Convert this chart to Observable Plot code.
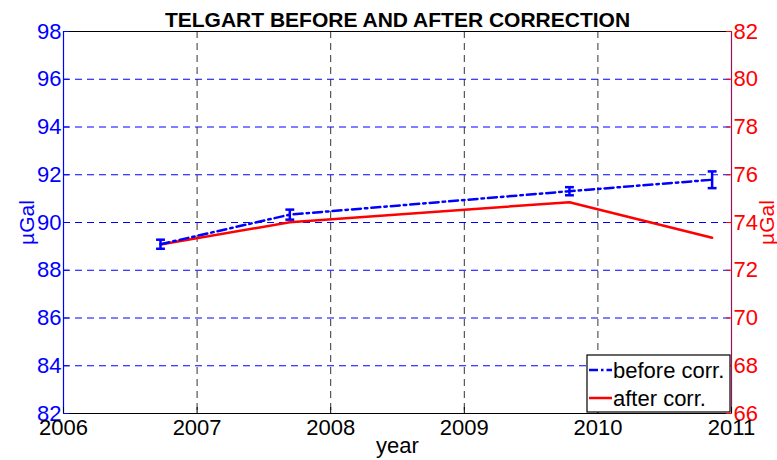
<!DOCTYPE html>
<html>
<head>
<meta charset="utf-8">
<script src="https://cdn.jsdelivr.net/npm/d3@7"></script>
<script src="https://cdn.jsdelivr.net/npm/@observablehq/plot@0.6"></script>
<style>
  html, body { margin: 0; padding: 0; background: #fff; }
  #chart { position: relative; width: 777px; height: 460px; }
</style>
</head>
<body>
<div id="chart"></div>
<script>
// ---- data ----
const title = "TELGART BEFORE AND AFTER CORRECTION";
const years = [2006.726, 2007.694, 2009.787, 2010.855];
const beforeValues = [89.09, 90.33, 91.31, 91.79];   // left axis, µGal
const beforeErrors = [0.19, 0.21, 0.17, 0.35];
const afterValues = [73.08, 74.01, 74.85, 73.36];    // right axis, µGal
const xTicks = [2006, 2007, 2008, 2009, 2010, 2011];
const leftTicks = [82, 84, 86, 88, 90, 92, 94, 96, 98];
const rightTicks = [66, 68, 70, 72, 74, 76, 78, 80, 82];
const rightOffset = 16; // right axis = left axis - 16
const seriesNames = ["before corr.", "after corr."];

const before = years.map((x, i) => ({x, v: beforeValues[i], e: beforeErrors[i]}));
const after = years.map((x, i) => ({x, v: afterValues[i]}));

const capSymbol = {
  draw(context, size) {
    const w = Math.sqrt(size) / 2;
    context.moveTo(-w, 0);
    context.lineTo(w, 0);
  }
};

const font = "'Liberation Sans', Arial, Helvetica, sans-serif";
const BLUE = "#0000ff", RED = "#ff0000";

const chart = Plot.plot({
  width: 777,
  height: 460,
  marginLeft: 63,
  marginRight: 46,
  marginTop: 31,
  marginBottom: 47,
  style: {fontFamily: font, fontSize: "22px", background: "#fff", overflow: "visible"},
  x: {domain: [2006, 2011]},
  y: {domain: [82, 98]},
  marks: [
    // grid
    Plot.ruleY(leftTicks.slice(1, -1), {stroke: BLUE, strokeWidth: 1, strokeDasharray: "7,5"}),
    Plot.ruleX(xTicks.slice(1, -1), {stroke: "#333", strokeWidth: 1, strokeDasharray: "7,5"}),
    // frame
    Plot.ruleY([98, 82], {stroke: "#000", strokeWidth: 1.2}),
    Plot.ruleX([2006], {stroke: BLUE, strokeWidth: 1.2}),
    Plot.ruleX([2011], {stroke: "#a0105a", strokeWidth: 1.2}),
    // axes
    Plot.axisY({anchor: "left", ticks: leftTicks, tickSize: -6, tickPadding: 8, color: BLUE, label: null, fontSize: 22}),
    Plot.axisY({anchor: "right", ticks: leftTicks, tickFormat: d => String(d - rightOffset), tickSize: -6, tickPadding: 8, color: RED, label: null, fontSize: 22}),
    Plot.axisX({anchor: "bottom", ticks: xTicks, tickFormat: d => String(d), tickSize: -6, tickPadding: 12, color: "#000", label: null, fontSize: 22}),
    // data
    Plot.line(after, {x: "x", y: d => d.v + rightOffset, stroke: RED, strokeWidth: 2.5}),
    Plot.line(before, {x: "x", y: "v", stroke: BLUE, strokeWidth: 2.5, strokeDasharray: "9,4,2.5,4"}),
    Plot.ruleX(before, {x: "x", y1: d => d.v - d.e, y2: d => d.v + d.e, stroke: BLUE, strokeWidth: 2.5}),
    Plot.dot(before, {x: "x", y: d => d.v - d.e, symbol: capSymbol, r: 5, stroke: BLUE, strokeWidth: 2.5, fill: "none"}),
    Plot.dot(before, {x: "x", y: d => d.v + d.e, symbol: capSymbol, r: 5, stroke: BLUE, strokeWidth: 2.5, fill: "none"}),
    // texts
    Plot.text([title], {frameAnchor: "top", dy: -19, fontWeight: "bold", fontSize: 21, fill: "#000"}),
    Plot.text(["µGal"], {frameAnchor: "left", dx: -36, rotate: -90, textAnchor: "middle", fill: BLUE, fontSize: 21}),
    Plot.text(["µGal"], {frameAnchor: "right", dx: 36, rotate: -90, textAnchor: "middle", fill: RED, fontSize: 21}),
    Plot.text(["year"], {frameAnchor: "bottom", dy: 39, fill: "#000", fontSize: 22})
  ]
});

// legend inside plot area (bottom-right)
const svg = d3.select(chart);
const lg = svg.append("g").attr("transform", "translate(587,355)");
lg.append("rect").attr("width", 143).attr("height", 57).attr("fill", "#fff").attr("stroke", "#000").attr("stroke-width", 1.2);
const items = [
  {name: seriesNames[0], color: BLUE, dash: "9,3,2.5,3"},
  {name: seriesNames[1], color: RED, dash: null}
];
items.forEach((it, i) => {
  const cy = 15 + i * 28;
  const l = lg.append("line").attr("x1", 2).attr("x2", 25).attr("y1", cy).attr("y2", cy)
    .attr("stroke", it.color).attr("stroke-width", 2.5);
  if (it.dash) l.attr("stroke-dasharray", it.dash);
  lg.append("text").attr("x", 26).attr("y", cy + 8)
    .attr("text-anchor", "start")
    .attr("font-family", font).attr("font-size", 22).attr("fill", "#000").text(it.name);
});

document.getElementById("chart").appendChild(chart);
</script>
</body>
</html>
